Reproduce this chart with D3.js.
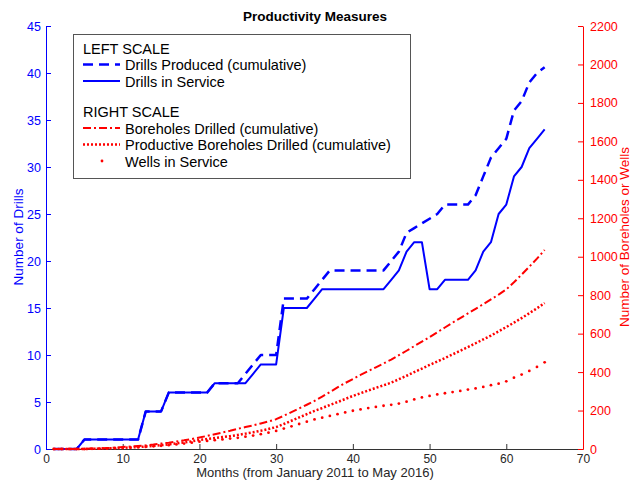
<!DOCTYPE html>
<html><head><meta charset="utf-8">
<script src="https://cdn.jsdelivr.net/npm/d3@7"></script>
<style>
body{margin:0;background:#fff}
svg{display:block;font-family:"Liberation Sans",Arial,Helvetica,sans-serif}
</style>
</head><body>
<svg id="c" width="631" height="480"></svg>
<script>
// ---- data ----
const months = [1,2,3,4,5,6,7,8,9,10,11,12,13,14,15,16,17,18,19,20,21,22,23,24,25,26,27,28,29,30,31,32,33,34,35,36,37,38,39,40,41,42,43,44,45,46,47,48,49,50,51,52,53,54,55,56,57,58,59,60,61,62,63,64,65];
const drillsProduced = [0,0,0,0, 1,1,1,1,1,1,1,1, 4,4,4, 6,6,6,6,6,6, 7,7,7,7, 8, 9, 10,10,10, 16,16,16,16, 17, 18, 19,19,19,19,19,19,19,19, 20,21,23,23.5,24,24.5,25, 26,26,26,26, 27,29,31,32,33,36,37,39,40,40.6];
const drillsInService = [0,0,0,0, 1,1,1,1,1,1,1,1, 4,4,4, 6,6,6,6,6,6, 7,7,7,7,7, 8, 9,9,9, 15,15,15,15, 16, 17,17,17,17,17,17,17,17,17, 18,19,21,22,22, 17,17, 18,18,18,18, 19,21,22,25,26,29,30,32,33,34];
const boreholes = [0,0,0,0, 1,2,3,5,7,10, 13,16,19,23,28, 33,39,45,52,60, 68,77,86,95,105, 114,123,133,143,155, 173,192,211,230,250, 273,296,320,343,364, 385,405,425,445,465, 488,511,535,558,582, 607,632,657,681,705, 729,753,778,803,830, 867,907,948,990,1035];
const productive = [0,0,0,0,0, 1,2,3,5,6, 8,10,13,16,20, 24,29,34,40,47, 52,57,62,67,73, 80,87,95,104,114, 130,147,164,181,198, 213,229,244,260,276, 290,304,318,331,345, 363,381,400,418,437, 455,473,492,511,530, 550,570,590,612,634, 657,681,706,732,759];
const wells = [0,0,0,0,0, 1,2,3,4,5, 7,9,11,14,17, 20,24,28,33,38, 42,46,50,54,58, 64,70,77,85,94, 106,118,130,142,154, 163,172,181,190,199, 206,213,219,225,230, 236,246,258,268,276, 284,290,296,302,309, 315,323,332,340,352, 371,387,406,427,451];
const xTicks = [0,10,20,30,40,50,60,70];
const leftTicks = [0,5,10,15,20,25,30,35,40,45];
const rightTicks = [0,200,400,600,800,1000,1200,1400,1600,1800,2000,2200];
const titleText = "Productivity Measures";
const xLabel = "Months (from January 2011 to May 2016)";
const yLeftLabel = "Number of Drills";
const yRightLabel = "Number of Boreholes or Wells";
const legendItems = [
  {label:"LEFT SCALE", type:"head"},
  {label:"Drills Produced (cumulative)", type:"dashed"},
  {label:"Drills in Service", type:"solid"},
  {label:"RIGHT SCALE", type:"head"},
  {label:"Boreholes Drilled (cumulative)", type:"dashdot"},
  {label:"Productive Boreholes Drilled (cumulative)", type:"dotted"},
  {label:"Wells in Service", type:"marker"}
];

// ---- layout ----
const svg = d3.select("#c");
const L = 46, R = 583, T = 26, B = 449;
const x = d3.scaleLinear().domain([0,70]).range([L,R]);
const yL = d3.scaleLinear().domain([0,45]).range([B,T]);
const yR = d3.scaleLinear().domain([0,2200]).range([B,T]);
const BLUE = "#0000ff", RED = "#ff0000", GRAY = "#333333";
const tickFont = "12.5px";
const fmt = d3.format("d");

// axes
const gx = svg.append("g").attr("transform",`translate(0,${B})`)
  .call(d3.axisBottom(x).tickValues(xTicks).tickFormat(fmt).tickSizeInner(-5).tickSizeOuter(0).tickPadding(5));
gx.select(".domain").attr("stroke",GRAY);
gx.selectAll(".tick line").attr("stroke",GRAY);
gx.selectAll(".tick text").attr("fill","#262626").style("font-size","12px").style("font-family","inherit");

const gl = svg.append("g").attr("transform",`translate(${L},0)`)
  .call(d3.axisLeft(yL).tickValues(leftTicks).tickFormat(fmt).tickSizeInner(-5).tickSizeOuter(0).tickPadding(5));
gl.select(".domain").attr("stroke",BLUE);
gl.selectAll(".tick line").attr("stroke",BLUE);
gl.selectAll(".tick text").attr("fill",BLUE).style("font-size",tickFont).style("font-family","inherit");

const gr = svg.append("g").attr("transform",`translate(${R},0)`)
  .call(d3.axisRight(yR).tickValues(rightTicks).tickFormat(fmt).tickSizeInner(-5).tickSizeOuter(0).tickPadding(7));
gr.select(".domain").attr("stroke",RED);
gr.selectAll(".tick line").attr("stroke",RED);
gr.selectAll(".tick text").attr("fill",RED).style("font-size",tickFont).style("font-family","inherit");

// labels
svg.append("text").attr("x",315).attr("y",21).attr("text-anchor","middle")
  .style("font-size","13.5px").style("font-weight","bold").attr("fill","#000").text(titleText);
svg.append("text").attr("x",315).attr("y",477).attr("text-anchor","middle")
  .style("font-size","13px").attr("fill","#262626").text(xLabel);
svg.append("text").attr("transform","translate(23,237) rotate(-90)").attr("text-anchor","middle")
  .style("font-size","13.5px").attr("fill",BLUE).text(yLeftLabel);
svg.append("text").attr("transform","translate(629,237) rotate(-90)").attr("text-anchor","middle")
  .style("font-size","13.5px").attr("fill",RED).text(yRightLabel);

// series
const lineL = (vals) => d3.line().x((d,i)=>x(months[i])).y(d=>yL(d))(vals);
const lineR = (vals) => d3.line().x((d,i)=>x(months[i])).y(d=>yR(d))(vals);

const styles = {
  dashed: {stroke:BLUE, w:2.5, dash:"10,6"},
  solid: {stroke:BLUE, w:2, dash:null},
  dashdot: {stroke:RED, w:2, dash:"8,3,2,3"},
  dotted: {stroke:RED, w:2.5, dash:"2,2"}
};
function drawPath(d, st){
  const p = svg.append("path").attr("d",d).attr("fill","none")
    .attr("stroke",st.stroke).attr("stroke-width",st.w).attr("stroke-linejoin","round");
  if (st.dash) p.attr("stroke-dasharray",st.dash);
  return p;
}
drawPath(lineL(drillsProduced), styles.dashed);
drawPath(lineL(drillsInService), styles.solid);
drawPath(lineR(boreholes), styles.dashdot);
drawPath(lineR(productive), styles.dotted);
svg.append("g").selectAll("circle").data(wells).join("circle")
  .attr("cx",(d,i)=>x(months[i])).attr("cy",d=>yR(d)).attr("r",1.4).attr("fill",RED);

// legend
const lg = svg.append("g");
lg.append("rect").attr("x",73.5).attr("y",34.5).attr("width",337).attr("height",144)
  .attr("fill","#fff").attr("stroke","#555").attr("stroke-width",1);
const baselines = [53.5,70,86.5,117,133.5,150,166.5];
legendItems.forEach((it,i)=>{
  const by = baselines[i];
  const tx = it.type==="head" ? 83 : 125;
  lg.append("text").attr("x",tx).attr("y",by).style("font-size","14.5px").attr("fill","#000").text(it.label);
  const cy = by - 5.5;
  if (it.type in styles) {
    drawPath(`M83,${cy}H120`, styles[it.type]);
  } else if (it.type==="marker") {
    lg.append("circle").attr("cx",102).attr("cy",cy).attr("r",1.4).attr("fill",RED);
  }
});
</script>
</body></html>
